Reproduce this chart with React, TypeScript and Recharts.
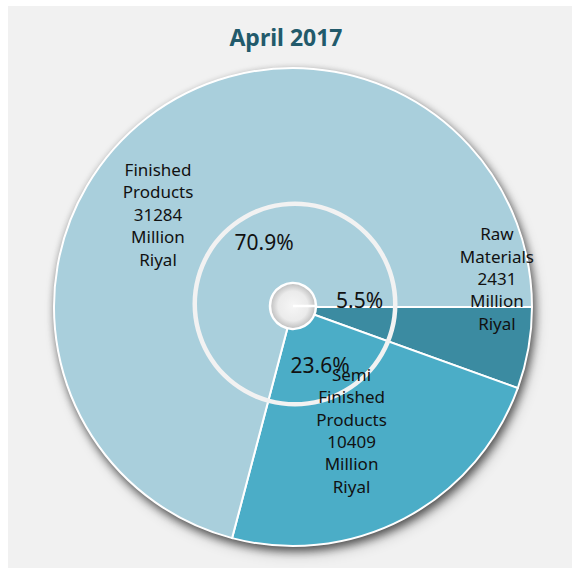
import React from "react";
import { PieChart, Pie, Cell } from "recharts";

const title = "April 2017";
const categories = ["Raw Materials", "Semi Finished Products", "Finished Products"];
const values = [2431, 10409, 31284];
const unit = "Million Riyal";
const colors = ["#3b8ba1", "#4badc7", "#a9cfdc"];

// where the labels sit (angle in degrees, radius in px), per slice
const nameLabelPos = [
  { angle: 8.1, r: 206 },
  { angle: -64.5, r: 136 },
  { angle: 145.4, r: 164 },
];
const pctLabelPos = [
  { angle: 6, r: 67 },
  { angle: -65, r: 64 },
  { angle: 114, r: 71 },
];

const total = values.reduce((a, b) => a + b, 0);
const data = categories.map((name, i) => ({
  name,
  value: values[i],
  pct: ((values[i] / total) * 100).toFixed(1) + "%",
}));
const single = [{ name: "bg", value: 1 }];

const FONT = "'Noto Sans', sans-serif";
const RAD = Math.PI / 180;

const renderLabel = (props: any) => {
  const { cx, cy, index } = props;
  const d = data[index];
  const np = nameLabelPos[index];
  const pp = pctLabelPos[index];
  const nx = cx + np.r * Math.cos(np.angle * RAD);
  const ny = cy - np.r * Math.sin(np.angle * RAD);
  const px = cx + pp.r * Math.cos(pp.angle * RAD);
  const py = cy - pp.r * Math.sin(pp.angle * RAD);
  const lines = [...d.name.split(" "), String(d.value), ...unit.split(" ")];
  const lh = 22.4;
  const start = ny - ((lines.length - 1) * lh) / 2;
  return (
    <g key={`lbl-${index}`}>
      <text
        x={px}
        y={py}
        textAnchor="middle"
        dominantBaseline="central"
        fontSize={21}
        fontFamily={FONT}
        fill="#111"
      >
        {d.pct}
      </text>
      <text
        x={nx}
        y={start}
        textAnchor="middle"
        dominantBaseline="central"
        fontSize={17}
        fontFamily={FONT}
        fill="#111"
      >
        {lines.map((l, i) => (
          <tspan key={i} x={nx} y={start + i * lh}>
            {l}
          </tspan>
        ))}
      </text>
    </g>
  );
};

export default function App() {
  const cx = 285;
  const cy = 301;
  return (
    <div
      style={{
        position: "absolute",
        left: 8,
        top: 6,
        width: 564,
        height: 562,
        background: "#f1f1f1",
      }}
    >
      <style>{`body{margin:0} .pie-shadow{filter:drop-shadow(2px 4px 5px rgba(0,0,0,0.45));}`}</style>
      <div
        style={{
          position: "absolute",
          top: 16,
          left: 0,
          width: 556,
          textAlign: "center",
          fontFamily: FONT,
          fontWeight: 700,
          fontSize: 23,
          color: "#225a6b",
          lineHeight: "30px",
        }}
      >
        {title}
      </div>
      <PieChart
        width={564}
        height={562}
        margin={{ top: 0, right: 0, bottom: 0, left: 0 }}
        style={{ position: "absolute", left: 0, top: 0 }}
      >
        <defs>
          <radialGradient id="holeGrad" cx="50%" cy="50%" r="50%">
            <stop offset="0%" stopColor="#f6f6f6" />
            <stop offset="65%" stopColor="#ebebeb" />
            <stop offset="100%" stopColor="#bdbdbd" />
          </radialGradient>
        </defs>
        <Pie
          data={single}
          dataKey="value"
          cx={cx}
          cy={cy}
          outerRadius={239}
          stroke="none"
          fill="#a9cfdc"
          className="pie-shadow"
          isAnimationActive={false}
        />
        <Pie
          data={data}
          dataKey="value"
          nameKey="name"
          cx={cx}
          cy={cy}
          outerRadius={239}
          startAngle={0}
          endAngle={-360}
          stroke="#ffffff"
          strokeWidth={2}
          label={renderLabel}
          labelLine={false}
          isAnimationActive={false}
        >
          {data.map((d, i) => (
            <Cell key={d.name} fill={colors[i]} />
          ))}
        </Pie>
        <Pie
          data={single}
          dataKey="value"
          cx={cx + 2}
          cy={cy - 3}
          innerRadius={98}
          outerRadius={102.5}
          stroke="none"
          fill="#f2f2f2"
          isAnimationActive={false}
        />
        <Pie
          data={single}
          dataKey="value"
          cx={cx}
          cy={cy - 1}
          outerRadius={23}
          stroke="#ffffff"
          strokeWidth={2.5}
          fill="url(#holeGrad)"
          isAnimationActive={false}
        />
      </PieChart>
    </div>
  );
}
